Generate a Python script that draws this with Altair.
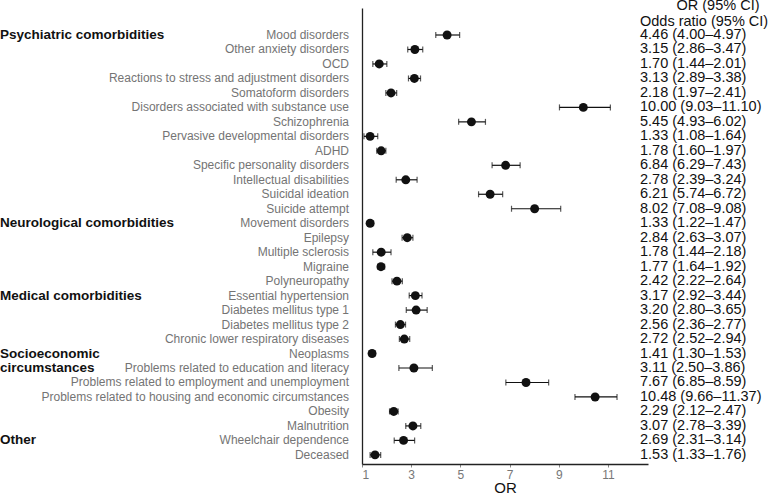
import altair as alt
import pandas as pd

# Comorbidities and their odds ratios with 95% confidence limits
conditions = [
    "Mood disorders", "Other anxiety disorders", "OCD",
    "Reactions to stress and adjustment disorders", "Somatoform disorders",
    "Disorders associated with substance use", "Schizophrenia",
    "Pervasive developmental disorders", "ADHD", "Specific personality disorders",
    "Intellectual disabilities", "Suicidal ideation", "Suicide attempt",
    "Movement disorders", "Epilepsy", "Multiple sclerosis", "Migraine",
    "Polyneuropathy", "Essential hypertension", "Diabetes mellitus type 1",
    "Diabetes mellitus type 2", "Chronic lower respiratory diseases", "Neoplasms",
    "Problems related to education and literacy",
    "Problems related to employment and unemployment",
    "Problems related to housing and economic circumstances",
    "Obesity", "Malnutrition", "Wheelchair dependence", "Deceased",
]
odds_ratio = [4.46, 3.15, 1.70, 3.13, 2.18, 10.00, 5.45, 1.33, 1.78, 6.84,
              2.78, 6.21, 8.02, 1.33, 2.84, 1.78, 1.77, 2.42, 3.17, 3.20,
              2.56, 2.72, 1.41, 3.11, 7.67, 10.48, 2.29, 3.07, 2.69, 1.53]
ci_low = [4.00, 2.86, 1.44, 2.89, 1.97, 9.03, 4.93, 1.08, 1.60, 6.29,
          2.39, 5.74, 7.08, 1.22, 2.63, 1.44, 1.64, 2.22, 2.92, 2.80,
          2.36, 2.52, 1.30, 2.50, 6.85, 9.66, 2.12, 2.78, 2.31, 1.33]
ci_high = [4.97, 3.47, 2.01, 3.38, 2.41, 11.10, 6.02, 1.64, 1.97, 7.43,
           3.24, 6.72, 9.08, 1.47, 3.07, 2.18, 1.92, 2.64, 3.44, 3.65,
           2.77, 2.94, 1.53, 3.86, 8.59, 11.37, 2.47, 3.39, 3.14, 1.76]

# Group headings and the condition row each one sits beside
group_labels = ["Psychiatric comorbidities", "Neurological comorbidities",
                "Medical comorbidities", "Socioeconomic", "circumstances", "Other"]
group_rows = ["Mood disorders", "Movement disorders", "Essential hypertension",
              "Neoplasms", "Problems related to education and literacy",
              "Wheelchair dependence"]

header_labels = ["OR (95% CI)", "Odds ratio (95% CI)"]

x_ticks = [1, 3, 5, 7, 9, 11]

df = pd.DataFrame({
    "condition": conditions,
    "or": odds_ratio,
    "lo": ci_low,
    "hi": ci_high,
})
df["row"] = range(len(df))
df["text"] = [f"{o:.2f} ({l:.2f}\u2013{h:.2f})" for o, l, h in zip(odds_ratio, ci_low, ci_high)]

groups = pd.DataFrame({"label": group_labels, "condition": group_rows})
groups["row"] = [conditions.index(c) for c in group_rows]

FONT = "Liberation Sans"
W, H = 286, 456

y_scale = alt.Scale(domain=[-1.865, 29.63], reverse=True, nice=False, zero=False)
x_scale = alt.Scale(domain=[1, 12.63], nice=False, zero=False)

base = alt.Chart(df)

y_enc = alt.Y("row:Q", scale=y_scale,
              axis=alt.Axis(labels=False, ticks=False, grid=False, title=None,
                            domainColor="#222", domainWidth=1.3))

ci_rule = base.mark_rule(color="#111", strokeWidth=1.2).encode(
    x=alt.X("lo:Q", scale=x_scale,
            axis=alt.Axis(values=x_ticks, title="OR", grid=False,
                          domainColor="#222", domainWidth=1.3,
                          tickColor="#888", tickSize=3,
                          labelColor="#777", labelFontSize=12, labelFont=FONT,
                          titleFont=FONT, titleFontSize=15, titleFontWeight="normal",
                          titleColor="#111", titlePadding=0, labelPadding=2)),
    x2="hi:Q",
    y=y_enc,
)

cap_lo = base.mark_tick(orient="vertical", color="#111", size=6, thickness=1.2).encode(
    x=alt.X("lo:Q", scale=x_scale), y=alt.Y("row:Q", scale=y_scale))
cap_hi = base.mark_tick(orient="vertical", color="#111", size=6, thickness=1.2).encode(
    x=alt.X("hi:Q", scale=x_scale), y=alt.Y("row:Q", scale=y_scale))

points = base.mark_circle(color="#111", opacity=1, size=80).encode(
    x=alt.X("or:Q", scale=x_scale), y=alt.Y("row:Q", scale=y_scale))

names = base.mark_text(align="right", baseline="middle", font=FONT, fontSize=12,
                       color="#747474").encode(
    x=alt.value(-13), y=alt.Y("row:Q", scale=y_scale), text="condition:N")

values = base.mark_text(align="left", baseline="middle", font=FONT, fontSize=14.5,
                        color="#111").encode(
    x=alt.value(278), y=alt.Y("row:Q", scale=y_scale), text="text:N")

group_text = alt.Chart(groups).mark_text(align="left", baseline="middle", font=FONT,
                                         fontSize=13.5, fontWeight="bold",
                                         color="#111").encode(
    x=alt.value(-362), y=alt.Y("row:Q", scale=y_scale), text="label:N")

# Column headings above the estimates
head_center = alt.Chart(pd.DataFrame({"label": [header_labels[0]]})).mark_text(
    align="center", baseline="middle", font=FONT, fontSize=14.5, color="#111").encode(
    x=alt.value(356), y=alt.value(-2), text="label:N")
head_left = alt.Chart(pd.DataFrame({"label": [header_labels[1]]})).mark_text(
    align="left", baseline="middle", font=FONT, fontSize=14.5, color="#111").encode(
    x=alt.value(278), y=alt.value(14), text="label:N")

chart = alt.layer(
    ci_rule, cap_lo, cap_hi, points, names, values, group_text, head_center, head_left
).properties(
    width=W, height=H,
    autosize=alt.AutoSizeParams(type="none"),
    padding={"left": 362, "top": 8, "right": 122, "bottom": 31},
    background="white",
).configure_view(stroke=None)

chart.save("out.html", embed_options={"renderer": "svg", "actions": False})
